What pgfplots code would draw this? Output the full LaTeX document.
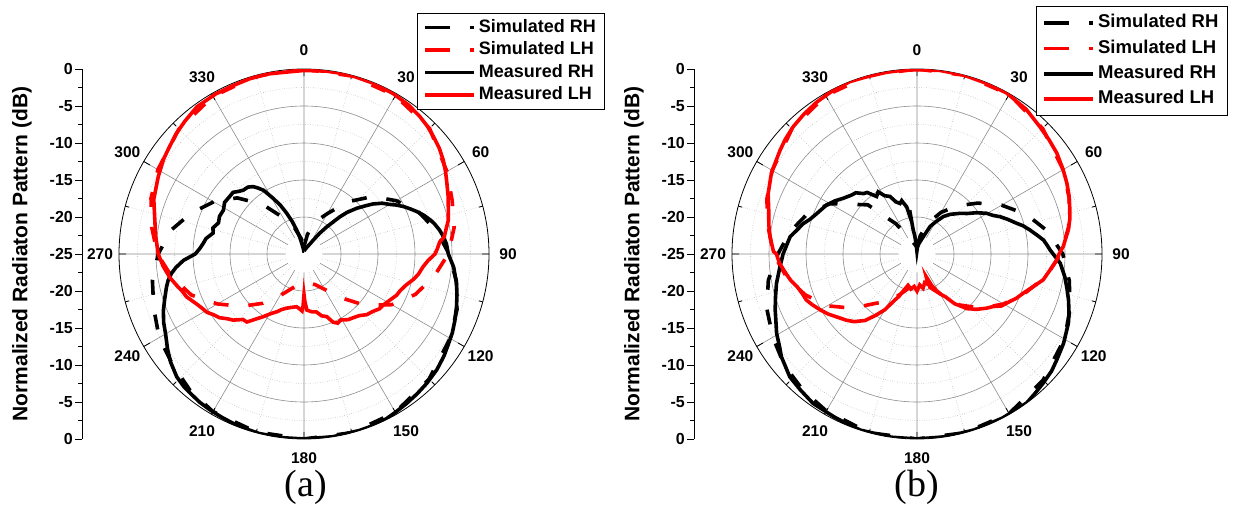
\documentclass[border=0pt]{standalone}
\usepackage{fontspec}
\setmainfont{Liberation Sans}
\newfontfamily\capfont{Liberation Serif}
\usepackage{pgfplots}
\pgfplotsset{compat=1.18}
\usepgfplotslibrary{polar}

\pgfplotsset{
  pol/.style={x filter/.expression={90-x}, y filter/.expression={y+25}},
  simdash/.style={dash pattern=on 15pt off 20pt},
  polstyle/.style={
    scale only axis, width=370pt, height=370pt,
    xmin=0, xmax=360, ymin=0, ymax=25,
    xtick={0,30,...,330}, xticklabel=\empty,
    minor xtick={15,45,...,345},
    ytick={5,10,15,20}, minor ytick={7.5,12.5,17.5,22.5},
    yticklabel=\empty,
    grid=both,
    major grid style={draw=black!45, line width=0.6pt},
    minor grid style={draw=black!35, dotted, line width=0.6pt},
    axis line style={black, line width=0.8pt},
    y axis line style={draw=none},
    tick align=outside,
    major tick length=7pt, minor tick length=4pt,
    xtick style={black, line width=0.8pt},
    ytick style={draw=none},
    legend cell align=left,
  },
  dbstyle/.style={
    scale only axis, width=20pt, height=370pt,
    xmin=0, xmax=1, ymin=0, ymax=50,
    axis x line=none, axis y line=left,
    axis line style={-, black, line width=0.8pt},
    ytick={0,5,...,50}, yticklabels={0,-5,-10,-15,-20,-25,-20,-15,-10,-5,0},
    minor y tick num=1, tick align=outside,
    major tick length=7pt, minor tick length=4pt,
    ytick style={black, line width=0.8pt},
    yticklabel style={font=\fontsize{16}{18}\selectfont\bfseries, inner xsep=2pt},
    ylabel={Normalized Radiaton Pattern (dB)},
    ylabel style={font=\fontsize{21}{24}\selectfont\bfseries, at={(axis description cs:-3,0.5)}, anchor=center},
  },
  legend image code/.code={\path (0pt,0pt) -- (10pt,0pt); \draw[#1] (10pt,0pt) -- (49pt,0pt);},
}

\begin{document}
\begin{tikzpicture}
\useasboundingbox (0pt,0pt) rectangle (1236pt,506pt);

% ---------------- (a) ----------------
\begin{axis}[dbstyle, at={(82pt,67pt)}, anchor=south west]
\end{axis}

\begin{polaraxis}[polstyle, at={(304pt,252pt)}, anchor=center,
  legend style={at={(0.805,1.152)}, anchor=north west, draw=black, line width=0.8pt, fill=white,
    inner xsep=6pt, inner ysep=3pt, row sep=0pt,
    font=\fontsize{18}{20}\selectfont\bfseries,
    nodes={inner xsep=3pt, inner ysep=3.3pt, text height=12.6pt, text depth=3.4pt}},
  legend entries={Simulated RH, Simulated LH, Measured RH, Measured LH}]
\fill[white] (axis cs:0,0) circle[radius=18.5pt];
% Simulated RH
\addplot[pol, black, line width=3.6pt, simdash] coordinates {
(0,-24)(10,-22.3)(20,-20.3)(30,-18.7)(40,-15.8)(50,-12.9)(60,-10.6)(70,-8.5)(80,-6.8)(90,-5.4)(100,-4.1)(110,-3.0)(120,-2.2)(135,-1.1)(150,-0.3)(165,0)(180,0)(195,-0.1)(210,-0.4)(220,-1.0)(230,-1.8)(240,-2.4)(250,-3.4)(260,-4.2)(270,-5.3)(280,-6.7)(290,-8.8)(300,-10.9)(310,-13.2)(320,-16.2)(330,-19.3)(340,-21.2)(350,-22.9)(360,-24)};
% Simulated LH
\addplot[pol, red, line width=3.6pt, simdash] coordinates {
(0,0)(15,-0.1)(30,-0.3)(45,-1.0)(60,-2.7)(70,-3.7)(80,-4.4)(90,-5.5)(100,-7.2)(110,-9.0)(120,-11.3)(130,-14.2)(140,-17.3)(150,-19.5)(160,-20.6)(170,-21.0)(180,-21.1)(190,-20.9)(200,-20.0)(210,-18.5)(220,-16.3)(230,-14.0)(240,-11.5)(250,-8.8)(260,-6.9)(270,-5.2)(280,-4.1)(290,-3.0)(300,-2.2)(315,-1.1)(330,-0.4)(345,-0.1)(360,0)};
% Measured RH
\addplot[pol, black, line width=3.6pt] coordinates {
(0,-24.6)(15,-24.3)(30,-23.5)(34,-22.7)(37,-21.5)(40,-20.2)(44,-18.0)(46,-16.9)(49,-15.6)(52,-14.4)(54,-13.5)(57,-12.4)(60,-11.6)(62,-10.9)(64.5,-10.1)(67,-9.4)(69.4,-8.7)(72,-8.0)(75,-7.3)(77,-6.9)(80,-6.4)(83,-6.0)(86,-5.7)(90,-5.5)(95,-4.7)(101,-4.0)(105,-3.6)(109,-3.2)(114,-2.7)(118,-2.3)(122,-2.0)(126,-1.6)(131,-1.2)(136.5,-0.9)(141,-0.7)(145.5,-0.5)(150,-0.3)(153.5,-0.1)(158,0)(162.5,0)(171,0)(180,0)(187,0)(194,0)(198,-0.1)(203,-0.2)(207,-0.3)(211,-0.4)(215,-0.5)(219,-0.7)(222,-0.8)(226,-1.1)(231,-1.8)(235,-2.5)(240,-3.4)(244,-3.9)(248,-4.5)(252,-5.2)(256.6,-5.9)(259,-6.3)(261.7,-6.9)(264,-7.6)(267,-8.7)(270,-10.3)(273,-10.9)(276,-11.3)(279,-11.6)(283,-12.4)(286,-12.2)(290,-12.7)(294,-12.5)(298.6,-12.6)(303,-12.2)(308,-12.3)(311,-12.3)(314,-12.8)(316.5,-13.1)(320,-13.2)(323,-13.6)(325,-14.1)(327.6,-14.8)(331,-16.4)(334,-17.6)(337,-19.0)(340,-20.3)(343,-21.6)(346,-22.7)(348,-23.5)(352,-24.2)(356,-24.6)(360,-24.6)};
% Measured LH
\addplot[pol, red, line width=3.6pt] coordinates {
(0,-0.2)(7,-0.1)(14,0)(22,-0.1)(29,-0.2)(35,-0.4)(40,-0.7)(44,-1.0)(48,-1.4)(52,-1.8)(56,-2.3)(60,-2.9)(64,-3.5)(68,-4.0)(73,-4.6)(77,-5.0)(80,-5.5)(83,-5.9)(85,-6.6)(88,-7.0)(90,-7.3)(93,-8.2)(96,-8.8)(100,-9.3)(103,-9.8)(107,-10.6)(111,-11.1)(114,-11.3)(118,-11.8)(122,-12.2)(126,-12.4)(130,-12.9)(134,-13.2)(138,-13.8)(142,-14.1)(146,-14.3)(151,-14.8)(154,-14.6)(157,-15.0)(160,-16.0)(164,-16.3)(168,-17.0)(172,-17.1)(177,-17.4)(179,-18.6)(180,-19.5)(181,-18.0)(182,-17.3)(185,-17.6)(188,-17.8)(193,-17.6)(198,-17.3)(202,-16.9)(205,-16.4)(209,-15.8)(213,-14.9)(216,-14.2)(220,-13.0)(223,-12.9)(227,-11.9)(230,-11.4)(233,-10.7)(236,-10.3)(239,-9.7)(242,-9.4)(245,-9.0)(250,-8.1)(253,-7.8)(256,-7.3)(260,-6.6)(265,-5.9)(270,-5.3)(277,-4.8)(284,-4.2)(290,-3.4)(294,-3.1)(298,-2.7)(304,-2.1)(308,-1.8)(313,-1.3)(318,-0.9)(324,-0.4)(331,-0.3)(337,-0.3)(343,-0.2)(349,-0.2)(355,-0.3)(360,-0.2)};
\end{polaraxis}
\foreach \t in {0,30,...,330} {
  \node[font=\fontsize{15.5}{17}\selectfont\bfseries, inner sep=0pt] at ([shift={({90-\t}:204pt)}]304pt,252pt) {\t};
}
\node[font=\capfont\fontsize{38}{40}\selectfont] at (306pt,19pt) {(a)};

% ---------------- (b) ----------------
\begin{axis}[dbstyle, at={(694pt,67pt)}, anchor=south west]
\end{axis}

\begin{polaraxis}[polstyle, at={(917pt,252pt)}, anchor=center,
  legend style={at={(0.822,1.17)}, anchor=north west, draw=black, line width=0.8pt, fill=white,
    inner xsep=6pt, inner ysep=4pt, row sep=0pt,
    font=\fontsize{18.5}{20}\selectfont\bfseries,
    nodes={inner xsep=3pt, inner ysep=4.4pt, text height=13pt, text depth=3.5pt}},
  legend entries={Simulated RH, Simulated LH, Measured RH, Measured LH}]
\fill[white] (axis cs:0,0) circle[radius=18.5pt];
% Simulated RH
\addplot[pol, black, line width=3.6pt, simdash] coordinates {
(0,-24)(10,-22.5)(20,-20.5)(30,-18.5)(40,-16.5)(50,-14.3)(60,-11.8)(70,-9.3)(80,-7.1)(90,-5.3)(100,-4.1)(110,-3.0)(120,-2.0)(135,-0.9)(150,-0.1)(165,0)(180,0)(195,0)(210,-0.5)(220,-1.0)(230,-1.6)(240,-2.5)(250,-3.4)(260,-4.6)(270,-6.2)(280,-7.6)(290,-9.2)(300,-11.4)(315,-15.6)(325,-20.0)(335,-22.6)(350,-23.8)(360,-24)};
% Simulated LH
\addplot[pol, red, line width=3.6pt, simdash] coordinates {
(0,0)(15,0)(30,-0.1)(45,-1.0)(60,-2.2)(70,-3.1)(80,-4.2)(90,-5.6)(100,-7.3)(110,-9.5)(120,-11.5)(130,-13.6)(140,-16.0)(150,-18.8)(160,-20.3)(170,-20.8)(180,-20.8)(190,-20.6)(200,-19.5)(210,-17.6)(220,-16.3)(230,-13.6)(240,-11.0)(250,-8.9)(260,-7.1)(270,-5.6)(280,-4.6)(290,-3.4)(300,-2.4)(315,-1.1)(330,-0.3)(345,0)(360,0)};
% Measured RH
\addplot[pol, black, line width=3.6pt] coordinates {
(0,-24.5)(5,-24.0)(10,-23.6)(15,-23.2)(20,-22.5)(25.4,-20.9)(30,-20.0)(35.2,-18.8)(40,-18.0)(46.6,-17.0)(51,-16.3)(55.3,-15.2)(59.7,-14.1)(63,-13.5)(65.8,-12.7)(69,-11.9)(72.9,-10.9)(75,-10.2)(78,-9.4)(81,-8.6)(83.7,-7.8)(86,-7.4)(88.3,-7.0)(90,-6.6)(93.7,-5.6)(98.7,-4.8)(103,-4.2)(106.9,-3.6)(111,-3.0)(114.6,-2.5)(121.4,-1.8)(127.2,-1.3)(131,-0.9)(135.7,-0.6)(140,-0.3)(143.7,0)(152.5,0)(162,0)(171,0)(180,0)(188,0)(197.8,0)(203,-0.2)(207,-0.3)(214.8,-0.4)(220.7,-0.8)(226,-1.1)(232.8,-2.0)(236,-2.6)(240.5,-3.2)(244,-3.8)(248.5,-4.4)(253,-5.0)(258.2,-5.6)(264.7,-6.4)(270,-6.9)(277.8,-7.7)(281,-8.4)(285,-9.1)(288,-9.8)(292,-10.4)(298.5,-11.1)(303,-11.8)(307,-12.5)(312,-13.1)(315,-13.3)(318.5,-14.1)(321,-14.3)(324.9,-15.5)(328,-15.1)(331,-16.0)(334.8,-16.4)(338,-17.4)(341.4,-17.8)(344,-17.5)(347.7,-18.5)(349.4,-19.9)(350.5,-19.0)(351,-21.7)(353,-22.5)(355,-23.6)(358,-24.6)(360,-24.5)};
% Measured LH
\addplot[pol, red, line width=3.6pt] coordinates {
(0,-0.1)(7,0)(14.4,0)(22,-0.1)(29,-0.1)(37,-0.5)(44,-1.1)(49,-1.4)(54.2,-1.7)(60,-2.2)(64.7,-2.6)(69,-3.0)(72.8,-3.4)(77,-3.8)(81,-4.3)(84,-4.8)(87,-5.2)(88.4,-5.5)(90,-5.8)(92.5,-6.1)(96.9,-6.9)(101.6,-7.6)(105.7,-8.7)(110.3,-9.7)(114,-10.3)(117,-10.9)(121.6,-11.6)(124.6,-12.5)(128,-13.1)(132.8,-14.0)(137.6,-15.0)(140,-15.8)(143,-16.6)(146.2,-18.0)(149,-18.6)(152,-19.4)(155,-20.3)(158,-21.7)(160,-20.6)(165,-21.0)(170,-20.3)(175,-20.8)(180,-20.0)(185,-20.6)(190,-20.2)(196,-20.6)(199,-20.0)(203,-18.8)(206,-18.0)(210,-16.3)(214,-15.0)(218,-13.6)(223,-12.5)(227,-11.9)(232,-11.2)(236,-10.5)(240,-9.9)(244,-9.3)(247.4,-8.8)(251,-8.6)(254.8,-8.2)(258,-7.6)(260.8,-7.2)(266,-6.4)(270,-6.0)(271,-5.6)(276.7,-5.0)(281,-4.6)(286.5,-4.1)(292,-3.3)(299,-2.5)(303,-2.2)(307,-1.8)(311,-1.4)(315.8,-1.0)(321,-0.7)(326.6,-0.4)(332,-0.2)(338.7,0)(344,-0.1)(350.5,-0.1)(355,-0.1)(360,-0.1)};
\end{polaraxis}
\foreach \t in {0,30,...,330} {
  \node[font=\fontsize{15.5}{17}\selectfont\bfseries, inner sep=0pt] at ([shift={({90-\t}:204pt)}]917pt,252pt) {\t};
}
\node[font=\capfont\fontsize{38}{40}\selectfont] at (917pt,19pt) {(b)};
\end{tikzpicture}
\end{document}
